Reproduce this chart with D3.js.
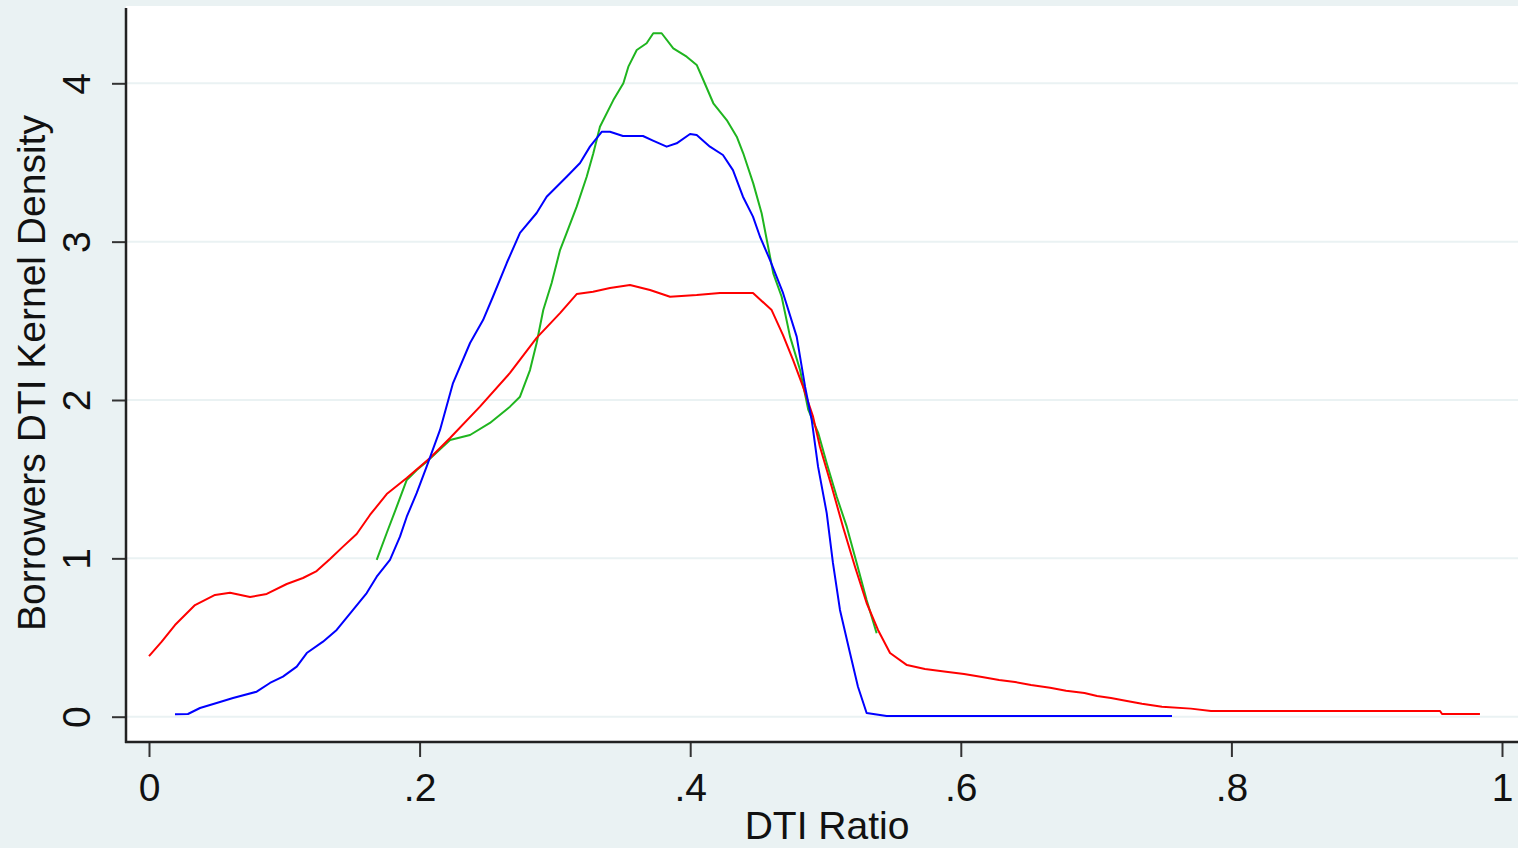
<!DOCTYPE html>
<html>
<head>
<meta charset="utf-8">
<script src="https://cdn.jsdelivr.net/npm/d3@7"></script>
<style>
  html, body { margin: 0; padding: 0; background: #eaf2f3; }
  svg { display: block; }
  text { font-family: "Liberation Sans", Arial, sans-serif; fill: #111; }
</style>
</head>
<body>
<svg id="chart" width="1518" height="848"></svg>
<script>
const width = 1518, height = 848;
const svg = d3.select("#chart");

// plot frame
const plotLeft = 126, plotRight = 1518, plotTop = 6, plotBottom = 742;

// axis ticks
const xTicks = [0, 0.2, 0.4, 0.6, 0.8, 1];
const xTickLabels = ["0", ".2", ".4", ".6", ".8", "1"];
const yTicks = [0, 1, 2, 3, 4];

// kernel density curves, [DTI ratio, density]
const redCurve = [
  [0.000,0.383],[0.0094,0.474],[0.0192,0.579],[0.0340,0.705],[0.0488,0.769],[0.0599,0.783],
  [0.0747,0.756],[0.0870,0.775],[0.1018,0.838],[0.1138,0.876],[0.1239,0.920],[0.1338,0.996],
  [0.1434,1.074],[0.1535,1.154],[0.1633,1.274],[0.1757,1.406],[0.1905,1.507],[0.2077,1.634],
  [0.2225,1.760],[0.2446,1.958],[0.2668,2.171],[0.2865,2.392],[0.3038,2.549],[0.3161,2.669],
  [0.3282,2.684],[0.3407,2.707],[0.3555,2.726],[0.3703,2.695],[0.3851,2.652],[0.4048,2.663],
  [0.4220,2.676],[0.4464,2.676],[0.4602,2.568],[0.4686,2.410],[0.4760,2.253],[0.4834,2.084],
  [0.4908,1.895],[0.4959,1.705],[0.5046,1.452],[0.5129,1.200],[0.5218,0.947],[0.5304,0.718],
  [0.5388,0.548],[0.5477,0.402],[0.5602,0.326],[0.5735,0.301],[0.5891,0.284],[0.6024,0.270],
  [0.6157,0.251],[0.6283,0.232],[0.6401,0.219],[0.6519,0.200],[0.6660,0.183],[0.6778,0.164],
  [0.6914,0.150],[0.7007,0.131],[0.7110,0.118],[0.7228,0.099],[0.7339,0.082],[0.7487,0.063],
  [0.7701,0.051],[0.7849,0.036],[0.9542,0.036],[0.9557,0.017],[0.9837,0.017]
];

const blueCurve = [
  [0.0192,0.015],[0.0288,0.017],[0.0377,0.055],[0.0500,0.087],[0.0621,0.118],[0.0796,0.158],
  [0.0894,0.213],[0.0990,0.253],[0.1092,0.316],[0.1166,0.402],[0.1286,0.474],[0.1387,0.548],
  [0.1508,0.674],[0.1609,0.781],[0.1683,0.884],[0.1781,0.990],[0.1855,1.137],[0.1905,1.263],
  [0.1979,1.413],[0.2052,1.579],[0.2151,1.811],[0.2247,2.107],[0.2373,2.360],[0.2469,2.505],
  [0.2542,2.652],[0.2644,2.865],[0.2742,3.055],[0.2865,3.181],[0.2939,3.284],[0.3087,3.410],
  [0.3186,3.497],[0.3259,3.600],[0.3346,3.694],[0.3407,3.694],[0.3503,3.667],[0.3651,3.667],
  [0.3725,3.638],[0.3826,3.600],[0.3900,3.621],[0.3999,3.680],[0.4048,3.674],[0.4146,3.600],
  [0.4242,3.547],[0.4316,3.452],[0.4390,3.284],[0.4464,3.158],[0.4516,3.031],[0.4590,2.884],
  [0.4686,2.676],[0.4787,2.400],[0.4849,2.084],[0.4898,1.874],[0.4945,1.579],[0.5009,1.286],
  [0.5055,0.971],[0.5107,0.674],[0.5181,0.402],[0.5240,0.189],[0.5304,0.023],[0.5452,0.004],
  [0.7561,0.004]
];

const greenCurve = [
  [0.1683,0.990],[0.1757,1.160],[0.1831,1.326],[0.1905,1.495],[0.1979,1.558],[0.2052,1.610],
  [0.2225,1.747],[0.2373,1.779],[0.2520,1.855],[0.2668,1.958],[0.2742,2.021],[0.2816,2.189],
  [0.2865,2.360],[0.2914,2.568],[0.2976,2.739],[0.3038,2.947],[0.3087,3.055],[0.3161,3.221],
  [0.3235,3.410],[0.3284,3.558],[0.3333,3.726],[0.3432,3.894],[0.3506,4.000],[0.3543,4.105],
  [0.3605,4.210],[0.3678,4.253],[0.3727,4.316],[0.3789,4.316],[0.3875,4.221],[0.3974,4.168],
  [0.4048,4.116],[0.4097,4.021],[0.4171,3.874],[0.4270,3.768],[0.4344,3.663],[0.4392,3.558],
  [0.4466,3.368],[0.4528,3.179],[0.4614,2.800],[0.4676,2.652],[0.4738,2.400],[0.4812,2.189],
  [0.4873,1.937],[0.4947,1.790],[0.5009,1.600],[0.5083,1.389],[0.5157,1.200],[0.5231,0.969],
  [0.5304,0.737],[0.5378,0.527]
];

const x = d3.scaleLinear().domain([0, 1]).range([149, 1502]);
const y = d3.scaleLinear().domain([0, 4]).range([716.7, 83.3]);

// plot region
svg.append("rect")
  .attr("x", plotLeft).attr("y", plotTop)
  .attr("width", plotRight - plotLeft).attr("height", plotBottom - plotTop)
  .attr("fill", "#ffffff");

// gridlines
svg.append("g")
  .selectAll("line")
  .data(yTicks)
  .join("line")
    .attr("x1", plotLeft).attr("x2", plotRight)
    .attr("y1", d => y(d)).attr("y2", d => y(d))
    .attr("stroke", "#eaf2f3")
    .attr("stroke-width", 2);

// curves
const line = d3.line().x(d => x(d[0])).y(d => y(d[1]));
const curves = [
  { data: greenCurve, color: "#1fb51f" },
  { data: redCurve, color: "#ff0000" },
  { data: blueCurve, color: "#0000ff" }
];
svg.append("g")
  .selectAll("path")
  .data(curves)
  .join("path")
    .attr("d", d => line(d.data))
    .attr("fill", "none")
    .attr("stroke", d => d.color)
    .attr("stroke-width", 2)
    .attr("stroke-linejoin", "round");

// x axis
const xAxis = svg.append("g")
  .attr("transform", `translate(0,${plotBottom})`)
  .call(d3.axisBottom(x)
    .tickValues(xTicks)
    .tickFormat((d, i) => xTickLabels[i])
    .tickSize(15)
    .tickPadding(16));
xAxis.select(".domain").remove();
xAxis.selectAll(".tick line").attr("stroke", "#333").attr("stroke-width", 2);
xAxis.selectAll(".tick text")
  .attr("font-size", 39)
  .attr("fill", "#111")
  .attr("font-family", "Liberation Sans, Arial, sans-serif");

// y axis
const yAxis = svg.append("g")
  .attr("transform", `translate(${plotLeft},0)`)
  .call(d3.axisLeft(y)
    .tickValues(yTicks)
    .tickFormat(d3.format("d"))
    .tickSize(14));
yAxis.select(".domain").remove();
yAxis.selectAll(".tick line").attr("stroke", "#333").attr("stroke-width", 2);
yAxis.selectAll(".tick text")
  .attr("x", null).attr("dy", null)
  .attr("text-anchor", "middle")
  .attr("transform", "translate(-36,0) rotate(-90)")
  .attr("font-size", 39)
  .attr("fill", "#111")
  .attr("font-family", "Liberation Sans, Arial, sans-serif");

// frame lines
svg.append("line")
  .attr("x1", plotLeft).attr("x2", plotLeft)
  .attr("y1", 8).attr("y2", plotBottom + 1)
  .attr("stroke", "#222").attr("stroke-width", 2.5);
svg.append("line")
  .attr("x1", plotLeft - 1).attr("x2", plotRight)
  .attr("y1", plotBottom).attr("y2", plotBottom)
  .attr("stroke", "#222").attr("stroke-width", 2.5);

// axis titles
svg.append("text")
  .attr("x", 827).attr("y", 839)
  .attr("text-anchor", "middle")
  .attr("font-size", 39)
  .text("DTI Ratio");

svg.append("text")
  .attr("transform", "translate(45,373) rotate(-90)")
  .attr("text-anchor", "middle")
  .attr("font-size", 39)
  .text("Borrowers DTI Kernel Density");
</script>
</body>
</html>
